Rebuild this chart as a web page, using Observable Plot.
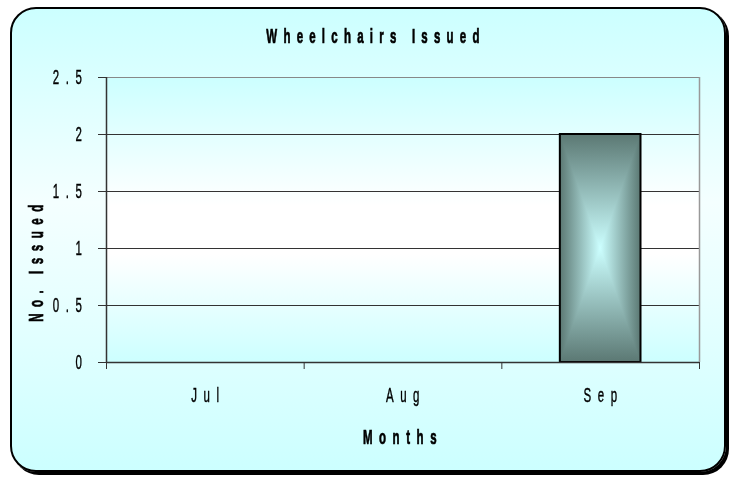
<!DOCTYPE html>
<html><head><meta charset="utf-8">
<script src="https://cdn.jsdelivr.net/npm/d3@7"></script>
<script src="https://cdn.jsdelivr.net/npm/@observablehq/plot@0.6"></script>
<style>
body{margin:0;width:732px;height:478px;overflow:hidden;background:#fff;}
#wrap{position:relative;width:732px;height:478px;}
#box{position:absolute;left:10px;top:7px;width:712px;height:461px;border:2px solid #000;border-radius:26px;box-shadow:3px 3px 0 #000;
background:linear-gradient(to bottom,#ccffff 0%,#f4ffff 42%,#e8ffff 62%,#ccffff 100%);}
#chart{position:absolute;left:0;top:0;}
</style></head><body>
<div id="wrap"><div id="box"></div><div id="chart"></div></div>
<script>
const title = "Wheelchairs Issued";
const xTitle = "Months";
const yTitle = "No. Issued";
const months = ["Jul", "Aug", "Sep"];
const issued = [0, 0, 2];
const yTicks = [0, 0.5, 1, 1.5, 2, 2.5];
const monthEdges = [0, 1, 2, 3];

const data = months.map((m, i) => ({month: m, i, value: issued[i]}));
const bars = data.filter(d => d.value > 0);
const FONT = "'Liberation Sans', Arial, sans-serif";
const barOpts = {x1: "i", x2: d => d.i + 1, y: "value", insetLeft: 58.5, insetRight: 58.5};

const svg = Plot.plot({
  width: 732, height: 478,
  marginLeft: 106, marginRight: 33, marginTop: 77, marginBottom: 116,
  style: {background: "transparent", fontFamily: FONT, fontSize: "14px", color: "#000"},
  x: {type: "linear", domain: [0, 3], axis: null},
  y: {domain: [0, 2.5], axis: null},
  marks: [
    Plot.frame({fill: "url(#plotBg)", stroke: null}),
    Plot.ruleY(yTicks.filter(v => v > 0 && v < 2.5), {stroke: "#333", strokeWidth: 1}),
    Plot.ruleY([2.5], {stroke: "#888", strokeWidth: 1}),
    Plot.ruleX([3], {stroke: "#999", strokeWidth: 1.5}),
    Plot.rectY(bars, {...barOpts, fill: "url(#barH)"}),
    Plot.rectY(bars, {...barOpts, fill: "url(#barV)", mixBlendMode: "darken"}),
    Plot.rectY(bars, {...barOpts, fill: "none", stroke: "#000", strokeWidth: 2}),
    Plot.ruleX([0], {stroke: "#333", strokeWidth: 1.5}),
    Plot.ruleY([0], {stroke: "#333", strokeWidth: 1.5}),
    Plot.axisY(yTicks, {tickSize: 8, tickPadding: 10, stroke: "#333", fill: "#000", tickFormat: d => String(d), label: null}),
    Plot.axisX(monthEdges, {tickSize: 7, stroke: "#333", tickFormat: () => "", label: null}),
    Plot.text(data, {x: d => d.i + 0.5, text: "month", frameAnchor: "bottom", lineAnchor: "middle", dy: 33, dx: 3, fill: "#000"}),
    Plot.text([title], {text: d => d, frameAnchor: "top", lineAnchor: "middle", dy: -41, dx: -27, fontWeight: "bold", fill: "#000"}),
    Plot.text([xTitle], {text: d => d, frameAnchor: "bottom", lineAnchor: "middle", dy: 75, dx: 0, fontWeight: "bold", fill: "#000"}),
    Plot.text([yTitle], {text: d => d, frameAnchor: "left", textAnchor: "middle", lineAnchor: "middle", rotate: -90, dx: -70, dy: 40, fontWeight: "bold", fill: "#000"})
  ]
});

const root = d3.select(svg);
const defs = root.insert("defs", ":first-child");
function grad(id, x2, y2, stops) {
  const g = defs.append("linearGradient").attr("id", id)
    .attr("x1", 0).attr("y1", 0).attr("x2", x2).attr("y2", y2);
  stops.forEach(([o, c]) => g.append("stop").attr("offset", o).attr("stop-color", c));
}
grad("plotBg", 0, 1, [[0, "#ccffff"], [0.45, "#ffffff"], [0.62, "#ffffff"], [1, "#ccffff"]]);
const barStops = [[0, "#5b7873"], [0.5, "#ccffff"], [1, "#5b7873"]];
grad("barH", 1, 0, barStops);
grad("barV", 0, 1, barStops);

const boldTexts = [title, xTitle, yTitle];
root.selectAll("text").each(function() {
  const t = d3.select(this);
  const bold = boldTexts.includes(this.textContent);
  t.style("letter-spacing", this.textContent === title ? "7.6px" : "8px")
   .style("font-weight", bold ? "bold" : "normal")
   .style("stroke", "#000").style("stroke-width", bold ? "0.5px" : "0.3px");
  const tr = t.attr("transform");
  if (tr) t.attr("transform", tr + " scale(0.82,1.45)");
});

document.getElementById("chart").appendChild(svg);
</script>
</body></html>
